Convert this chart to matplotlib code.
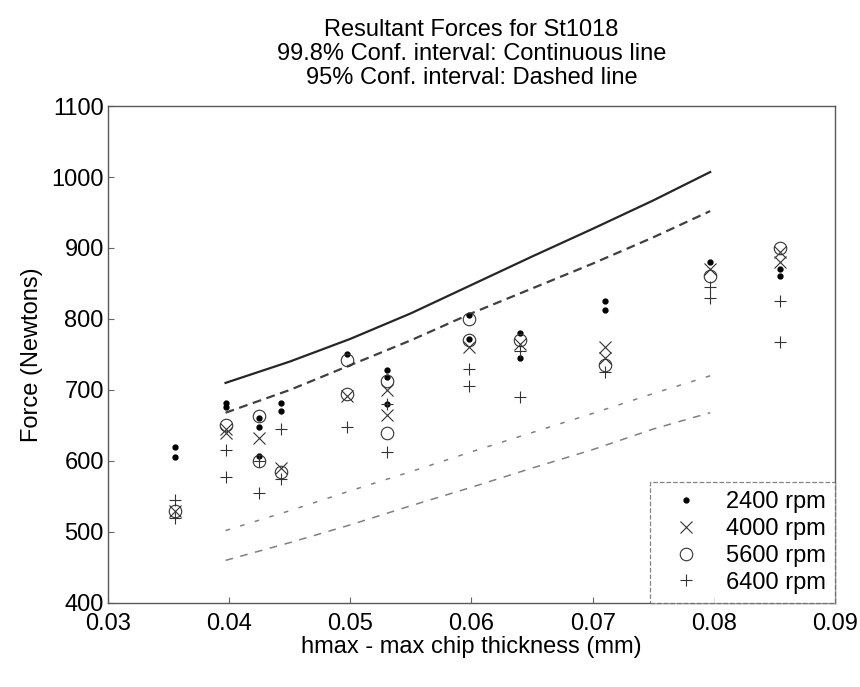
import numpy as np
import matplotlib
matplotlib.use("Agg")
import matplotlib.pyplot as plt

# Resultant forces for St1018 with confidence bounds
plt.rcParams['font.family'] = ['Liberation Sans', 'DejaVu Sans']

# measured points, one list per spindle speed
x_2400 = [0.0355, 0.0355, 0.0397, 0.0397, 0.0425, 0.0425, 0.0425, 0.0443, 0.0443,
          0.0497, 0.053, 0.053, 0.053, 0.0598, 0.0598, 0.064, 0.064, 0.071, 0.071,
          0.0797, 0.0855, 0.0855]
f_2400 = [620, 606, 682, 676, 660, 648, 607, 682, 670,
          750, 728, 718, 680, 806, 772, 780, 745, 825, 812,
          880, 870, 860]

x_4000 = [0.0355, 0.0397, 0.0397, 0.0425, 0.0443, 0.0497, 0.053, 0.053, 0.0598,
          0.064, 0.071, 0.071, 0.0797, 0.0855, 0.0855]
f_4000 = [530, 645, 640, 632, 590, 692, 700, 665, 760,
          765, 760, 745, 870, 895, 880]

x_5600 = [0.0355, 0.0397, 0.0425, 0.0425, 0.0443, 0.0497, 0.0497, 0.053, 0.053,
          0.0598, 0.0598, 0.064, 0.071, 0.0797, 0.0855]
f_5600 = [530, 650, 663, 600, 585, 742, 695, 712, 640,
          800, 770, 770, 735, 860, 900]

x_6400 = [0.0355, 0.0355, 0.0397, 0.0397, 0.0425, 0.0425, 0.0443, 0.0443, 0.0497,
          0.053, 0.053, 0.0598, 0.0598, 0.064, 0.064, 0.071, 0.0797, 0.0797,
          0.0855, 0.0855]
f_6400 = [545, 520, 615, 578, 600, 555, 645, 575, 648,
          680, 612, 730, 705, 690, 755, 725, 830, 845,
          825, 768]

# confidence bounds
x_ci = [0.0397, 0.045, 0.05, 0.055, 0.06, 0.065, 0.07, 0.075, 0.0797]
hi_998 = [710, 740, 772, 808, 848, 888, 927, 967, 1007]
hi_95 = [668, 700, 735, 770, 808, 843, 878, 915, 952]
lo_95 = [502, 530, 558, 585, 613, 640, 667, 695, 720]
lo_998 = [460, 485, 510, 537, 563, 590, 616, 645, 668]

fig = plt.figure(figsize=(8.6, 6.87), dpi=100)
ax = fig.add_axes([0.1256, 0.1223, 0.8453, 0.7234])

fs = 17
ax.plot(x_ci, hi_998, '-', color='0.15', lw=1.6)
ax.plot(x_ci, hi_95, '--', color='0.25', lw=1.6, dashes=(4, 2.5))
ax.plot(x_ci, lo_95, color='0.5', lw=1.1, dashes=(3, 7))
ax.plot(x_ci, lo_998, color='0.5', lw=1.1, dashes=(5, 5))

ax.plot(x_2400, f_2400, '.', color='k', ms=7, label='2400 rpm')
ax.plot(x_4000, f_4000, 'x', color='0.2', ms=8, mew=0.8, label='4000 rpm')
ax.plot(x_5600, f_5600, 'o', color='0.2', ms=9, mfc='none', mew=0.8, label='5600 rpm')
ax.plot(x_6400, f_6400, '+', color='0.2', ms=9, mew=0.8, label='6400 rpm')

ax.set_xlim(0.03, 0.09)
ax.set_ylim(400, 1100)
ax.set_xticks([0.03, 0.04, 0.05, 0.06, 0.07, 0.08, 0.09])
ax.set_xticklabels(['0.03', '0.04', '0.05', '0.06', '0.07', '0.08', '0.09'])
ax.set_yticks(np.arange(400, 1101, 100))
ax.tick_params(direction='in', length=4, labelsize=fs, colors='0.4', labelcolor='k', pad=3)
ax.tick_params(axis='x', pad=7)
for s in ax.spines.values():
    s.set_color('0.35')
    s.set_linewidth(1.0)

ax.set_xlabel('hmax - max chip thickness (mm)', fontsize=fs, labelpad=1)
ax.set_ylabel('Force (Newtons)', fontsize=fs, labelpad=6)
ax.set_title('Resultant Forces for St1018\n99.8% Conf. interval: Continuous line\n'
             '95% Conf. interval: Dashed line', fontsize=fs, linespacing=1.1, pad=16)

leg = ax.legend(loc='lower right', fontsize=fs, frameon=True, fancybox=False,
                borderaxespad=0.0, handletextpad=0.6, labelspacing=0.2,
                handlelength=2.2, borderpad=0.4)
leg.get_frame().set_edgecolor('0.4')
leg.get_frame().set_linestyle('--')
leg.get_frame().set_linewidth(0.9)

fig.savefig('out.png', dpi=100)
